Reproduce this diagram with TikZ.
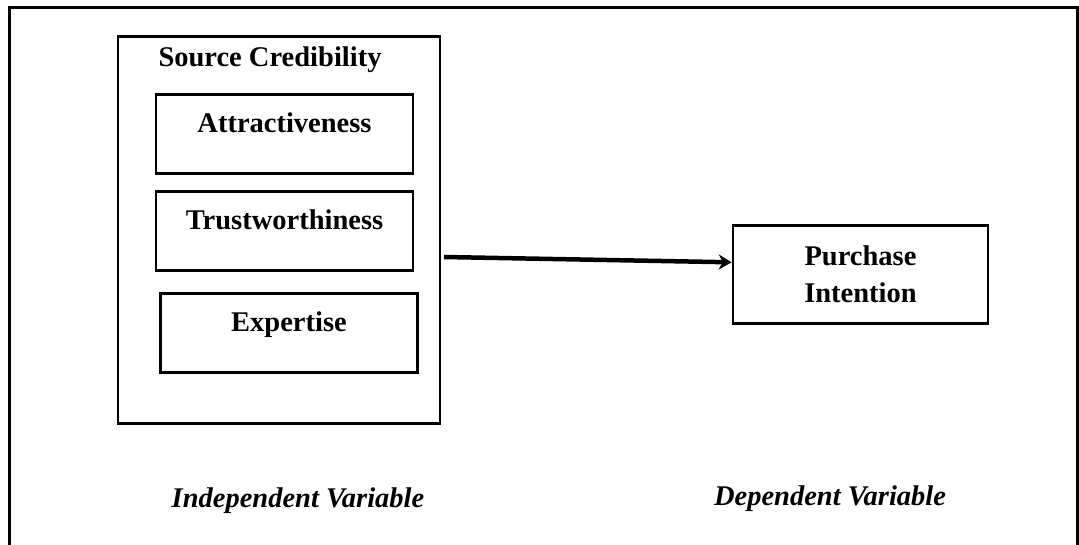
\documentclass[tikz,border=0pt]{standalone}
\usepackage{fontspec}
\setmainfont{Liberation Serif}
\usetikzlibrary{arrows.meta}

\begin{document}
\begin{tikzpicture}[x=1pt, y=-1pt, >={Stealth[length=13pt,width=15pt]},
  every box/.style={draw, line width=2.6pt, inner sep=0pt, anchor=north,
    font=\fontsize{28.5}{37}\selectfont\bfseries},
  factor/.style={every box, minimum width=257pt, text height=38pt, text depth=41pt},
  tag/.style={anchor=base, font=\fontsize{28.5}{37}\selectfont\bfseries\itshape}]

\useasboundingbox (0,0) rectangle (1079,545);

% frame, open at the bottom
\draw [line width=3pt] (9,560) -- (9,8) -- (1077,8) -- (1077,560);

\node [every box, minimum width=322pt, minimum height=387pt] (cred) at (279,35) {};
\node [anchor=base, font=\fontsize{28.5}{37}\selectfont\bfseries] (cred-title) at (270,67) {Source Credibility};

\foreach \n/\t/\x/\y in {attr/Attractiveness/284.5/93, trust/Trustworthiness/284.5/190, expert/Expertise/289/292}
  \node [factor] (\n) at (\x,\y) {\t};

\node [every box, minimum width=255pt, minimum height=98pt, align=center] (pi) at (860.5,224) {Purchase\\Intention};

\coordinate (cred-out) at (444,257);
\draw [->, line width=4.5pt] (cred-out) -- ([yshift=12pt]pi.west);

\node [tag] (indep) at (298,507) {Independent Variable};
\node [tag] (dep) at (830,505) {Dependent Variable};

\end{tikzpicture}
\end{document}
